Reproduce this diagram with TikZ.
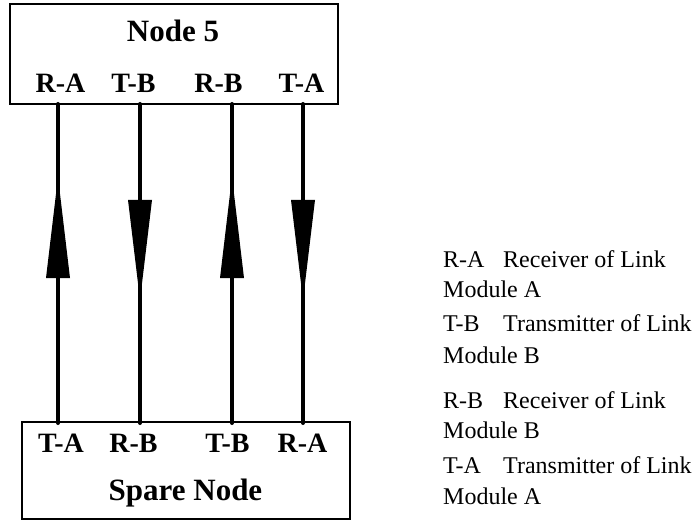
\documentclass[tikz,border=0pt]{standalone}
\usepackage{fontspec}
\setmainfont{Liberation Serif}
\usetikzlibrary{decorations.markings}
\tikzset{
  box/.style={draw, line width=2pt, minimum width=328pt, inner sep=0pt},
  title/.style={font=\fontsize{31}{31}\selectfont\bfseries, anchor=base, inner sep=0pt},
  port/.style={font=\fontsize{28}{28}\selectfont\bfseries, anchor=base, inner sep=0pt},
  legend/.style={font=\fontsize{24}{24}\selectfont, anchor=base west, inner sep=0pt},
  link/.style={line width=4pt, line cap=round},
  uplink/.style={link, postaction={decorate}, decoration={markings,
     mark=at position 145pt with {\fill (0pt,-12pt) -- (101pt,0pt) -- (0pt,12pt) -- cycle;}}},
  downlink/.style={link, postaction={decorate}, decoration={markings,
     mark=at position 96pt with {\fill (0pt,-12pt) -- (100pt,0pt) -- (0pt,12pt) -- cycle;}}}
}
\newcommand{\lgd}[2]{\makebox[60pt][l]{#1}#2}
\begin{document}
\begin{tikzpicture}[x=1pt,y=-1pt]
\useasboundingbox (0,0) rectangle (695,521);
% boxes
\node[box, minimum height=100pt] (n5) at (174,54) {};
\node[box, minimum height=97pt] (sp) at (186,470.5) {};
% texts in boxes
\node[title] (n5t) at (173,42) {Node 5};
\node[port] (n5ra) at (60.5,93) {R-A};
\node[port] (n5tb) at (133.5,93) {T-B};
\node[port] (n5rb) at (218.5,93) {R-B};
\node[port] (n5ta) at (301.5,93) {T-A};
\node[port] (spta) at (61,452) {T-A};
\node[port] (sprb) at (133.5,452) {R-B};
\node[port] (sptb) at (227.5,452) {T-B};
\node[port] (spra) at (302.5,452) {R-A};
\node[title] (spt) at (185.5,500) {Spare Node};
% port points
\coordinate (t1) at (58,104);  \coordinate (b1) at (58,423);
\coordinate (t2) at (140,104); \coordinate (b2) at (140,423);
\coordinate (t3) at (232,104); \coordinate (b3) at (232,423);
\coordinate (t4) at (303,104); \coordinate (b4) at (303,423);
% connectors
\draw[uplink] (b1) -- (t1);
\draw[downlink] (t2) -- (b2);
\draw[uplink] (b3) -- (t3);
\draw[downlink] (t4) -- (b4);
% legend
\node[legend] (l1) at (443,267) {\lgd{R-A}{Receiver of Link}};
\node[legend] (l1b) at (443,297) {Module A};
\node[legend] (l2) at (443,331) {\lgd{T-B}{Transmitter of Link}};
\node[legend] (l2b) at (443,363) {Module B};
\node[legend] (l3) at (443,408) {\lgd{R-B}{Receiver of Link}};
\node[legend] (l3b) at (443,438) {Module B};
\node[legend] (l4) at (443,473) {\lgd{T-A}{Transmitter of Link}};
\node[legend] (l4b) at (443,504) {Module A};
\end{tikzpicture}
\end{document}
